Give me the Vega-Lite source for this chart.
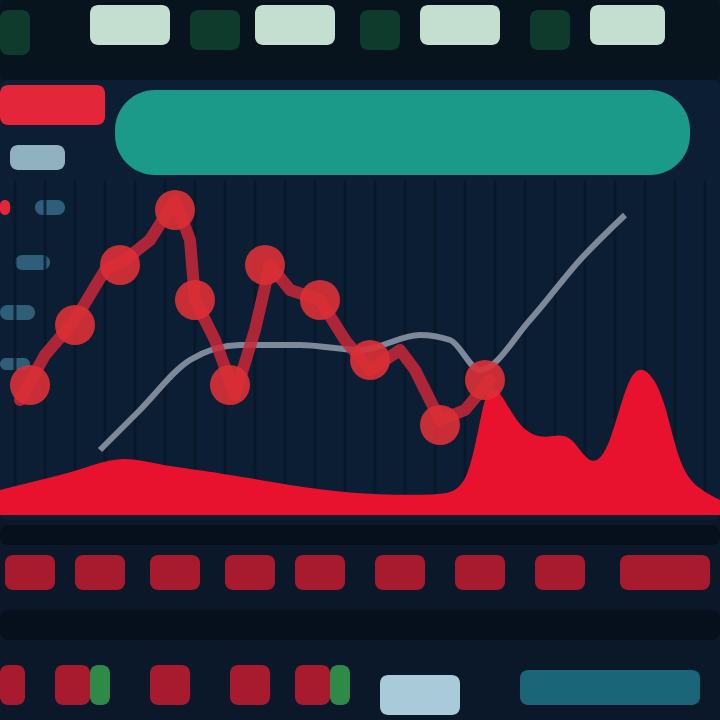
{
  "$schema": "https://vega.github.io/schema/vega-lite/v6.json",
  "width": 720,
  "height": 720,
  "autosize": {"type": "fit", "contains": "padding"},
  "padding": 0,
  "background": "#0a1829",
  "config": {"view": {"stroke": null}},
  "datasets": {
    "blocks": [
      {"x": 0, "x2": 72, "y": 64, "y2": 72, "group": "topband"},
      {"x": 0, "x2": 72, "y": 20, "y2": 64, "group": "plotbg"},
      {"x": 0, "x2": 72, "y": 17.5, "y2": 19.5, "group": "darkline"},
      {"x": 0, "x2": 72, "y": 8, "y2": 11, "group": "darkline"},
      {"x": 0, "x2": 3, "y": 66.5, "y2": 71, "group": "darkgreen"},
      {"x": 9, "x2": 17, "y": 67.5, "y2": 71.5, "group": "pale"},
      {"x": 19, "x2": 24, "y": 67, "y2": 71, "group": "darkgreen"},
      {"x": 25.5, "x2": 33.5, "y": 67.5, "y2": 71.5, "group": "pale"},
      {"x": 36, "x2": 40, "y": 67, "y2": 71, "group": "darkgreen"},
      {"x": 42, "x2": 50, "y": 67.5, "y2": 71.5, "group": "pale"},
      {"x": 53, "x2": 57, "y": 67, "y2": 71, "group": "darkgreen"},
      {"x": 59, "x2": 66.5, "y": 67.5, "y2": 71.5, "group": "pale"},
      {"x": 0, "x2": 10.5, "y": 59.5, "y2": 63.5, "group": "red"},
      {"x": 1, "x2": 6.5, "y": 55, "y2": 57.5, "group": "label"},
      {"x": 0, "x2": 1, "y": 50.5, "y2": 52, "group": "red"},
      {"x": 3.5, "x2": 6.5, "y": 50.5, "y2": 52, "group": "labeldim"},
      {"x": 1.5, "x2": 5, "y": 45, "y2": 46.5, "group": "labeldim"},
      {"x": 0, "x2": 3.5, "y": 40, "y2": 41.5, "group": "labeldim"},
      {"x": 0, "x2": 3, "y": 35, "y2": 36.2, "group": "labeldim"},
      {"x": 0.5, "x2": 5.5, "y": 13, "y2": 16.5, "group": "redrow"},
      {"x": 7.5, "x2": 12.5, "y": 13, "y2": 16.5, "group": "redrow"},
      {"x": 15, "x2": 20, "y": 13, "y2": 16.5, "group": "redrow"},
      {"x": 22.5, "x2": 27.5, "y": 13, "y2": 16.5, "group": "redrow"},
      {"x": 29.5, "x2": 34.5, "y": 13, "y2": 16.5, "group": "redrow"},
      {"x": 37.5, "x2": 42.5, "y": 13, "y2": 16.5, "group": "redrow"},
      {"x": 45.5, "x2": 50.5, "y": 13, "y2": 16.5, "group": "redrow"},
      {"x": 53.5, "x2": 58.5, "y": 13, "y2": 16.5, "group": "redrow"},
      {"x": 62, "x2": 71, "y": 13, "y2": 16.5, "group": "redrow"},
      {"x": 0, "x2": 2.5, "y": 1.5, "y2": 5.5, "group": "redrow"},
      {"x": 5.5, "x2": 9, "y": 1.5, "y2": 5.5, "group": "redrow"},
      {"x": 9, "x2": 11, "y": 1.5, "y2": 5.5, "group": "green"},
      {"x": 15, "x2": 19, "y": 1.5, "y2": 5.5, "group": "redrow"},
      {"x": 23, "x2": 27, "y": 1.5, "y2": 5.5, "group": "redrow"},
      {"x": 29.5, "x2": 33, "y": 1.5, "y2": 5.5, "group": "redrow"},
      {"x": 33, "x2": 35, "y": 1.5, "y2": 5.5, "group": "green"},
      {"x": 38, "x2": 46, "y": 0.5, "y2": 4.5, "group": "paleblue"},
      {"x": 52, "x2": 70, "y": 1.5, "y2": 5, "group": "tealdim"}
    ],
    "grid": [
      {"x": 1.5}, {"x": 4.5}, {"x": 7.5}, {"x": 10.5}, {"x": 13.5}, {"x": 16.5},
      {"x": 19.5}, {"x": 22.5}, {"x": 25.5}, {"x": 28.5}, {"x": 31.5}, {"x": 34.5},
      {"x": 37.5}, {"x": 40.5}, {"x": 43.5}, {"x": 46.5}, {"x": 49.5}, {"x": 52.5},
      {"x": 55.5}, {"x": 58.5}, {"x": 61.5}, {"x": 64.5}, {"x": 67.5}, {"x": 70.5}
    ],
    "area": [
      {"x": 0, "y": 23, "base": 20.5},
      {"x": 4, "y": 24, "base": 20.5},
      {"x": 8, "y": 25, "base": 20.5},
      {"x": 12, "y": 26.5, "base": 20.5},
      {"x": 16, "y": 25.5, "base": 20.5},
      {"x": 20, "y": 25, "base": 20.5},
      {"x": 26, "y": 24, "base": 20.5},
      {"x": 32, "y": 23, "base": 20.5},
      {"x": 38, "y": 22.5, "base": 20.5},
      {"x": 44, "y": 22.5, "base": 20.5},
      {"x": 47, "y": 23, "base": 20.5},
      {"x": 48.5, "y": 34, "base": 20.5},
      {"x": 50, "y": 33, "base": 20.5},
      {"x": 52, "y": 29, "base": 20.5},
      {"x": 54.5, "y": 28, "base": 20.5},
      {"x": 57, "y": 29, "base": 20.5},
      {"x": 59, "y": 25, "base": 20.5},
      {"x": 61, "y": 27, "base": 20.5},
      {"x": 63, "y": 35.5, "base": 20.5},
      {"x": 65, "y": 35, "base": 20.5},
      {"x": 66.5, "y": 32, "base": 20.5},
      {"x": 68, "y": 25, "base": 20.5},
      {"x": 70, "y": 23, "base": 20.5},
      {"x": 72, "y": 22, "base": 20.5}
    ],
    "redline": [
      {"x": 2, "y": 32},
      {"x": 4.5, "y": 36.5},
      {"x": 7.5, "y": 40},
      {"x": 10.5, "y": 45},
      {"x": 12.5, "y": 46},
      {"x": 15, "y": 48},
      {"x": 17.5, "y": 52},
      {"x": 19, "y": 48},
      {"x": 19.5, "y": 42},
      {"x": 21.5, "y": 38},
      {"x": 23.5, "y": 32.5},
      {"x": 25.5, "y": 39},
      {"x": 27, "y": 45.5},
      {"x": 29, "y": 43},
      {"x": 32, "y": 42},
      {"x": 34.5, "y": 38},
      {"x": 37, "y": 35},
      {"x": 40, "y": 37},
      {"x": 41.5, "y": 35},
      {"x": 44, "y": 30},
      {"x": 46.5, "y": 31},
      {"x": 49, "y": 34}
    ],
    "redpts": [
      {"x": 3, "y": 33.5},
      {"x": 7.5, "y": 39.5},
      {"x": 12, "y": 45.5},
      {"x": 17.5, "y": 51},
      {"x": 19.5, "y": 42},
      {"x": 23, "y": 33.5},
      {"x": 26.5, "y": 45.5},
      {"x": 32, "y": 42},
      {"x": 37, "y": 36},
      {"x": 44, "y": 29.5},
      {"x": 48.5, "y": 34}
    ],
    "grayline": [
      {"x": 10, "y": 27},
      {"x": 14, "y": 31},
      {"x": 19, "y": 36},
      {"x": 24, "y": 37.5},
      {"x": 30, "y": 37.5},
      {"x": 36, "y": 37},
      {"x": 42, "y": 38.5},
      {"x": 45, "y": 38},
      {"x": 48, "y": 35},
      {"x": 53, "y": 40},
      {"x": 58, "y": 46},
      {"x": 62.5, "y": 50.5}
    ]
  },
  "layer": [
    {
      "data": {"name": "blocks"},
      "mark": {"type": "rect", "cornerRadius": 8},
      "encoding": {
        "x": {"field": "x", "type": "quantitative", "scale": {"domain": [0, 72], "nice": false, "zero": false}, "axis": null},
        "x2": {"field": "x2"},
        "y": {"field": "y", "type": "quantitative", "scale": {"domain": [0, 72], "nice": false, "zero": false}, "axis": null},
        "y2": {"field": "y2"},
        "color": {
          "field": "group",
          "type": "nominal",
          "legend": null,
          "scale": {
            "domain": ["topband", "plotbg", "darkline", "darkgreen", "pale", "red", "label", "labeldim", "redrow", "green", "paleblue", "tealdim"],
            "range": ["#07131d", "#0b1e33", "#06101c", "#0f3b2c", "#c4dfcf", "#e3263a", "#8fb1c0", "#2f5f78", "#a81a2e", "#2f8a4a", "#a9cad8", "#1a6678"]
          }
        }
      }
    },
    {
      "data": {"name": "grid"},
      "mark": {"type": "rule", "color": "#081628", "strokeWidth": 3, "opacity": 0.8},
      "encoding": {
        "x": {"field": "x", "type": "quantitative"},
        "y": {"datum": 20.5, "type": "quantitative"},
        "y2": {"datum": 54}
      }
    },
    {
      "data": {"values": [{"x": 11.5, "x2": 69, "y": 54.5, "y2": 63}]},
      "mark": {"type": "rect", "cornerRadius": 40, "color": "#1b9a8a"},
      "encoding": {
        "x": {"field": "x", "type": "quantitative"},
        "x2": {"field": "x2"},
        "y": {"field": "y", "type": "quantitative"},
        "y2": {"field": "y2"}
      }
    },
    {
      "data": {"name": "area"},
      "mark": {"type": "area", "color": "#e8122e", "interpolate": "basis"},
      "encoding": {
        "x": {"field": "x", "type": "quantitative"},
        "y": {"field": "y", "type": "quantitative"},
        "y2": {"field": "base"}
      }
    },
    {
      "data": {"name": "grayline"},
      "mark": {"type": "line", "color": "#7d8898", "strokeWidth": 6, "interpolate": "monotone"},
      "encoding": {
        "x": {"field": "x", "type": "quantitative"},
        "y": {"field": "y", "type": "quantitative"}
      }
    },
    {
      "data": {"name": "redline"},
      "mark": {"type": "line", "color": "#c9283a", "strokeWidth": 12, "interpolate": "linear", "strokeCap": "round", "strokeJoin": "round", "opacity": 0.85},
      "encoding": {
        "x": {"field": "x", "type": "quantitative"},
        "y": {"field": "y", "type": "quantitative"}
      }
    },
    {
      "data": {"name": "redpts"},
      "mark": {"type": "circle", "color": "#dc3036", "size": 1600, "opacity": 0.9},
      "encoding": {
        "x": {"field": "x", "type": "quantitative"},
        "y": {"field": "y", "type": "quantitative"}
      }
    }
  ]
}
